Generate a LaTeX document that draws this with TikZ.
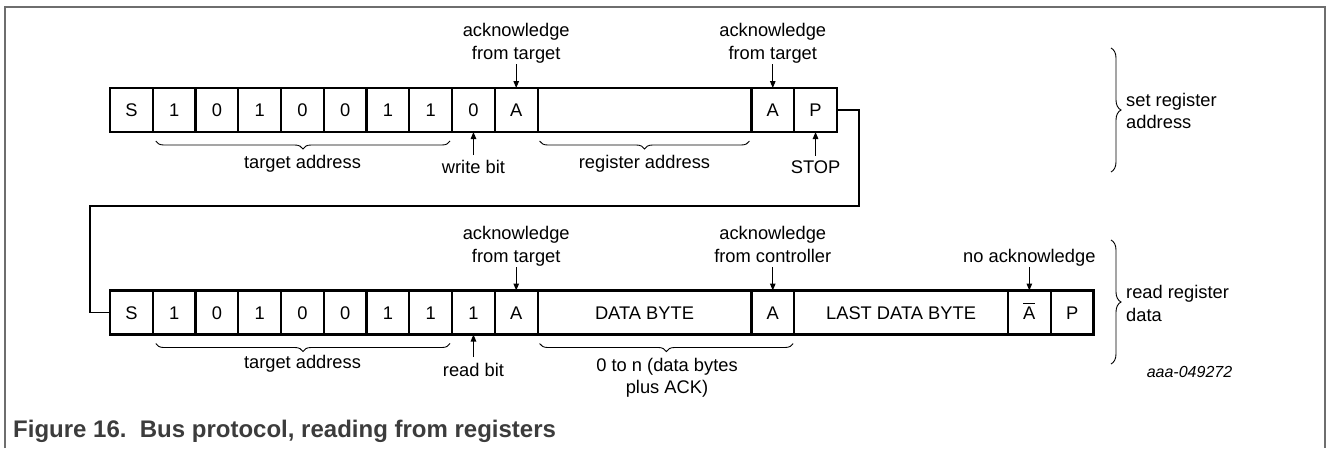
\documentclass[tikz,border=0pt]{standalone}
\usepackage{fontspec}
\setmainfont{Liberation Sans}
\usetikzlibrary{decorations.pathreplacing,arrows.meta}
\definecolor{framegray}{HTML}{6E6E6E}
\definecolor{capgray}{HTML}{3C3C3C}
\begin{document}
\begin{tikzpicture}[x=1pt,y=-1pt,
  every node/.style={font=\fontsize{18.3}{22.5}\selectfont},
  cell/.style={draw, line width=2.2pt, minimum height=44pt, minimum width=42.76pt, inner sep=0pt, outer sep=0pt, text height=13.2pt, text depth=0pt},
  wide/.style={cell, minimum width=213.8pt},
  lbl/.style={inner sep=1pt},
  arr/.style={line width=1.1pt, -{Stealth[length=7pt,width=5.5pt,inset=0pt]}},
  br/.style={decorate, decoration={brace, amplitude=8pt}, line width=0.9pt},
  rbr/.style={decorate, decoration={brace, amplitude=10pt}, line width=0.9pt},
  conn/.style={line width=1.2pt},
]
\useasboundingbox (0,0) rectangle (1328,448);
\draw[framegray, line width=1.5pt] (5,448) -- (5,7) -- (1325,7) -- (1325,448);

% ---------- top row ----------
\node[cell] (t0) at (131.38,110) {S};
\node[cell] (t1) at (174.14,110) {1};
\node[cell] (t2) at (216.90,110) {0};
\node[cell] (t3) at (259.66,110) {1};
\node[cell] (t4) at (302.42,110) {0};
\node[cell] (t5) at (345.18,110) {0};
\node[cell] (t6) at (387.94,110) {1};
\node[cell] (t7) at (430.70,110) {1};
\node[cell] (t8) at (473.46,110) {0};
\node[cell] (t9) at (516.22,110) {A};
\node[wide] (treg) at (644.50,110) {};
\node[cell] (t15) at (772.78,110) {A};
\node[cell] (t16) at (815.54,110) {P};

% ---------- bottom row ----------
\node[cell] (b0) at (131.38,312.5) {S};
\node[cell] (b1) at (174.14,312.5) {1};
\node[cell] (b2) at (216.90,312.5) {0};
\node[cell] (b3) at (259.66,312.5) {1};
\node[cell] (b4) at (302.42,312.5) {0};
\node[cell] (b5) at (345.18,312.5) {0};
\node[cell] (b6) at (387.94,312.5) {1};
\node[cell] (b7) at (430.70,312.5) {1};
\node[cell] (b8) at (473.46,312.5) {1};
\node[cell] (b9) at (516.22,312.5) {A};
\node[wide] (bdata) at (644.50,312.5) {DATA BYTE};
\node[cell] (b15) at (772.78,312.5) {A};
\node[wide] (blast) at (901.06,312.5) {LAST DATA BYTE};
\node[cell] (b21) at (1029.34,312.5) {$\overline{\hbox{\rule{0pt}{15pt}A}}$};
\node[cell] (b22) at (1072.10,312.5) {P};

% ---------- connector ----------
\coordinate (c1) at (859,206);
\coordinate (c2) at (90,206);
\draw[conn] (t16.east) -| (c1) -- (c2) |- (b0.west);

% ---------- top labels ----------
\node[lbl, anchor=south, align=center] (ack1) at (516.22,64) {acknowledge\\from target};
\node[lbl, anchor=south, align=center] (ack2) at (772.78,64) {acknowledge\\from target};
\draw[arr] (ack1.south) -- (t9.north);
\draw[arr] (ack2.south) -- (t15.north);

\draw[br] ([xshift=-2pt,yshift=-9pt]t7.south east) -- ([xshift=3pt,yshift=-9pt]t1.south west);
\node[lbl, anchor=north] (ta1) at (302.5,154) {target address};
\draw[br] ([xshift=-2pt,yshift=-9pt]treg.south east) -- ([xshift=2pt,yshift=-9pt]treg.south west);
\node[lbl, anchor=north] (ra) at (644.5,154) {register address};
\node[lbl, anchor=north] (wb) at (473.46,159) {write bit};
\draw[arr] ([yshift=4pt]wb.north) -- (t8.south);
\node[lbl, anchor=north] (stop) at (815.54,159.5) {STOP};
\draw[arr] ([yshift=4pt]stop.north) -- (t16.south);

\draw[rbr] (1111,48) -- (1111,172);
\node[lbl, anchor=west, align=left] (sra) at (1125,111) {set register\\address};

% ---------- bottom labels ----------
\node[lbl, anchor=south, align=center] (ack3) at (516.22,267) {acknowledge\\from target};
\node[lbl, anchor=south, align=center] (ack4) at (772.78,267) {acknowledge\\from controller\vphantom{g}};
\node[lbl, anchor=south] (nack) at (1029.34,267) {no acknowledge};
\draw[arr] (ack3.south) -- (b9.north);
\draw[arr] (ack4.south) -- (b15.north);
\draw[arr] (nack.south) -- (b21.north);

\draw[br] ([xshift=-2pt,yshift=-9pt]b7.south east) -- ([xshift=3pt,yshift=-9pt]b1.south west);
\node[lbl, anchor=north] (ta2) at (302.5,354) {target address};
\node[lbl, anchor=north] (rb) at (473.46,362) {read bit};
\draw[arr] ([yshift=5pt]rb.north) -- (b8.south);
\draw[br] ([xshift=-1pt,yshift=-9pt]b15.south east) -- ([xshift=2pt,yshift=-9pt]bdata.south west);
\node[lbl, anchor=north, align=center] (zn) at (667,357) {0 to n (data bytes\\plus ACK)};

\draw[rbr] (1111,240) -- (1111,364);
\node[lbl, anchor=west, align=left] (rrd) at (1125,303.5) {read register\\data};

\node[anchor=base, inner sep=0pt, font=\fontsize{16}{19}\selectfont\itshape] (code) at (1189.5,377) {aaa-049272};

% ---------- caption ----------
\node[anchor=base west, inner sep=0pt, text=capgray, font=\fontsize{24}{28}\selectfont\bfseries] (cap) at (13,437) {Figure 16.\hskip0.556em Bus protocol, reading from registers};
\end{tikzpicture}
\end{document}
